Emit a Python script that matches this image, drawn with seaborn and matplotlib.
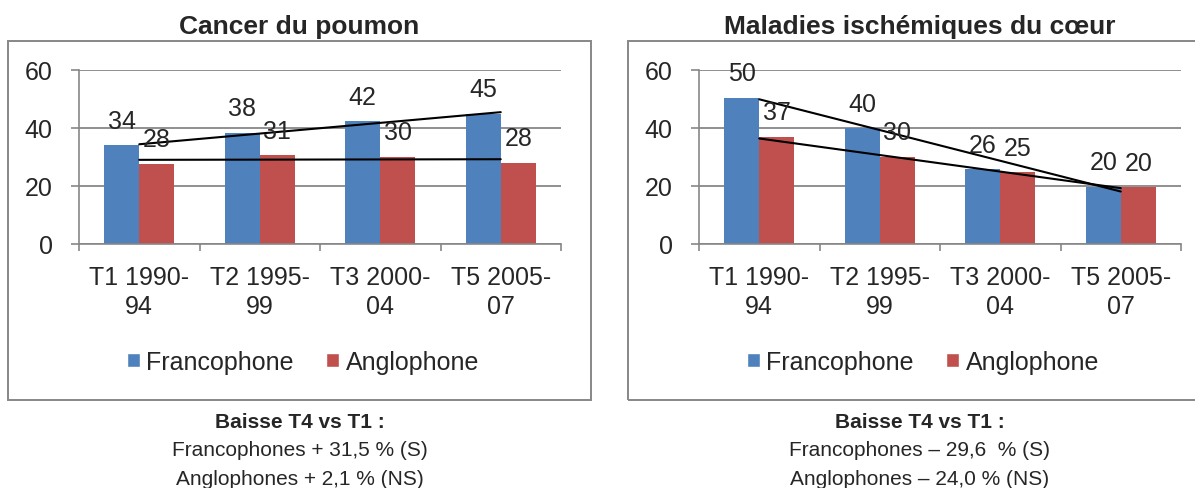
import numpy as np
import pandas as pd
import seaborn as sns
import matplotlib.pyplot as plt
from matplotlib.patches import Rectangle

periods = ["T1 1990-\n94", "T2 1995-\n99", "T3 2000-\n04", "T5 2005-\n07"]
groups = ["Francophone", "Anglophone"]

lung_fr = [34.0, 38.4, 42.3, 45.0]
lung_an = [27.7, 30.6, 30.1, 28.1]
heart_fr = [50.4, 40.0, 25.8, 19.8]
heart_an = [36.9, 30.0, 24.8, 19.6]

titles = ["Cancer du poumon", "Maladies ischémiques du cœur"]
notes = [
    ["Francophones + 31,5 % (S)", "Anglophones + 2,1 % (NS)"],
    ["Francophones \u2013 29,6  % (S)", "Anglophones \u2013 24,0 % (NS)"],
]
note_head = "Baisse T4 vs T1 :"

colors = ["#4F81BD", "#C0504D"]
gray = "#878787"

sns.set_style("white")
plt.rcParams["font.family"] = ["Liberation Sans", "DejaVu Sans"]

W, H = 1195, 489
fig = plt.figure(figsize=(W / 100, H / 100), dpi=100)


def fx(px):
    return px / W


def fy(py):
    return 1 - py / H


panels = [(lung_fr, lung_an), (heart_fr, heart_an)]

for i, (fr, an) in enumerate(panels):
    dx = 620 * i
    # outer chart frame
    fig.add_artist(Rectangle((fx(8 + dx), fy(401)), fx(583), fy(41.7) - fy(401),
                             transform=fig.transFigure, fill=False,
                             edgecolor=gray, linewidth=1.4))
    fig.text(fx(299.5 + dx), fy(27), titles[i], ha="center", va="center",
             fontsize=19, fontweight="bold")

    ax = fig.add_axes([fx(79 + dx), fy(245), fx(482), fy(71) - fy(245)])
    df = pd.DataFrame({
        "periode": periods * 2,
        "groupe": [groups[0]] * 4 + [groups[1]] * 4,
        "valeur": list(fr) + list(an),
    })
    sns.barplot(data=df, x="periode", y="valeur", hue="groupe",
                hue_order=groups, palette=colors, saturation=1,
                width=0.58, errorbar=None, legend=False, linewidth=0,
                ax=ax, zorder=2)

    # linear trend lines
    xs = np.arange(len(periods))
    for vals in (fr, an):
        a, b = np.polyfit(xs, vals, 1)
        ax.plot([xs[0], xs[-1]], [b, a * xs[-1] + b], color="black",
                linewidth=1.5, zorder=3)

    for cont in ax.containers:
        ax.bar_label(cont, fmt="{:.0f}", padding=9, fontsize=18, zorder=4)

    ax.set_ylim(0, 60)
    ax.set_xlim(-0.5, 3.5)
    ax.set_yticks([0, 20, 40, 60])
    ax.set_xticks(range(len(periods)))
    ax.set_xticklabels(periods, multialignment="center", linespacing=1.25)
    ax.set_xticks(np.arange(-0.5, 4, 1), minor=True)
    ax.set_xlabel("")
    ax.set_ylabel("")
    ax.yaxis.grid(True, color=gray, linewidth=1.3, zorder=0)
    ax.set_axisbelow(True)
    for s in ("top", "right"):
        ax.spines[s].set_visible(False)
    for s in ("left", "bottom"):
        ax.spines[s].set_color(gray)
        ax.spines[s].set_linewidth(1.2)
    ax.tick_params(axis="y", left=True, length=6, width=1.2, color=gray,
                   pad=13, labelsize=18)
    ax.tick_params(axis="x", which="major", length=0, pad=15, labelsize=18)
    ax.tick_params(axis="x", which="minor", bottom=True, length=5, width=1.2,
                   color=gray)

    handles = [Rectangle((0, 0), 1, 1, facecolor=c) for c in colors]
    fig.legend(handles, groups, loc="center",
               bbox_to_anchor=(fx(303 + dx), fy(363)), ncol=2,
               frameon=False, fontsize=18, handlelength=0.52,
               handleheight=0.52, handletextpad=0.25, columnspacing=1.3)

    fig.text(fx(299.5 + dx), fy(422), note_head, ha="center", va="center",
             fontsize=15, fontweight="bold")
    for j, line in enumerate(notes[i]):
        fig.text(fx(299.5 + dx), fy(451 + 28.5 * j), line, ha="center",
                 va="center", fontsize=15)

fig.savefig("out.png", dpi=100)
